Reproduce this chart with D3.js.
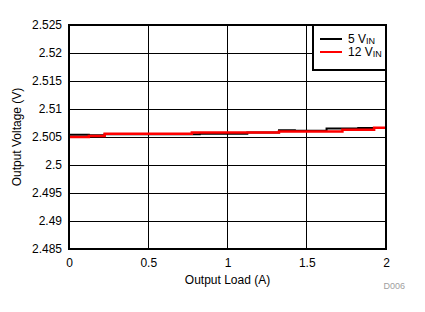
<!DOCTYPE html>
<html>
<head>
<meta charset="utf-8">
<script src="https://d3js.org/d3.v7.min.js"></script>
<style>
  body { margin: 0; background: #fff; font-family: "Liberation Sans", Arial, sans-serif; }
  .axis path, .axis line { display: none; }
  .axis text { font-size: 12px; fill: #000; font-family: "Liberation Sans", Arial, sans-serif; }
</style>
</head>
<body>
<script>
// output load (A)
const loads = [0, 0.05, 0.1, 0.15, 0.2, 0.25, 0.3, 0.35, 0.4, 0.45, 0.5, 0.55, 0.6, 0.65, 0.7, 0.75, 0.8, 0.85, 0.9, 0.95,
               1.0, 1.05, 1.1, 1.15, 1.2, 1.25, 1.3, 1.35, 1.4, 1.45, 1.5, 1.55, 1.6, 1.65, 1.7, 1.75, 1.8, 1.85, 1.9, 1.95, 2.0];
// output voltage (V), 5 VIN
const vin5 = [2.5054, 2.5054, 2.5054, 2.5053, 2.5053, 2.5055, 2.5055, 2.5055, 2.5055, 2.5055, 2.5055, 2.5055, 2.5055, 2.5055, 2.5055, 2.5055, 2.5055, 2.5056, 2.5056, 2.5056,
              2.5056, 2.5056, 2.5056, 2.5058, 2.5058, 2.5058, 2.5058, 2.5062, 2.5062, 2.5061, 2.5061, 2.5061, 2.5061, 2.5065, 2.5065, 2.5065, 2.5065, 2.5066, 2.5066, 2.5066, 2.5066];
// output voltage (V), 12 VIN
const vin12 = [2.5050, 2.5050, 2.5050, 2.5052, 2.5052, 2.5056, 2.5056, 2.5056, 2.5056, 2.5056, 2.5056, 2.5056, 2.5056, 2.5056, 2.5056, 2.5056, 2.5058, 2.5058, 2.5058, 2.5058,
               2.5058, 2.5058, 2.5058, 2.5058, 2.5058, 2.5058, 2.5058, 2.5060, 2.5060, 2.5060, 2.5060, 2.5060, 2.5060, 2.5060, 2.5060, 2.5063, 2.5063, 2.5063, 2.5063, 2.50665, 2.50665];

const xTicks = [0, 0.5, 1, 1.5, 2];
const yTicks = [2.485, 2.49, 2.495, 2.5, 2.505, 2.51, 2.515, 2.52, 2.525];
const seriesNames = ["5 V", "12 V"];
const colors = ["#000000", "#ff0000"];

const W = 425, H = 312;
const plot = { left: 69, top: 25, right: 386, bottom: 249 };

const svg = d3.select("body").append("svg").attr("width", W).attr("height", H);

const x = d3.scaleLinear().domain([0, 2]).range([plot.left, plot.right]);
const y = d3.scaleLinear().domain([2.485, 2.525]).range([plot.bottom, plot.top]);

// grid
svg.append("g").selectAll("line.v").data(xTicks.slice(1, -1)).enter().append("line")
  .attr("x1", d => x(d)).attr("x2", d => x(d)).attr("y1", plot.top).attr("y2", plot.bottom)
  .attr("stroke", "#000").attr("stroke-width", 1).attr("shape-rendering", "crispEdges");
svg.append("g").selectAll("line.h").data(yTicks.slice(1, -1)).enter().append("line")
  .attr("x1", plot.left).attr("x2", plot.right).attr("y1", d => Math.round(y(d)) + 0.5).attr("y2", d => Math.round(y(d)) + 0.5)
  .attr("stroke", "#000").attr("stroke-width", 1);

// axes labels
svg.append("g").attr("class", "axis").attr("transform", `translate(${plot.left},0)`)
  .call(d3.axisLeft(y).tickValues(yTicks).tickSize(0).tickPadding(7).tickFormat(d3.format("")));
svg.append("g").attr("class", "axis").attr("transform", `translate(0,${plot.bottom})`)
  .call(d3.axisBottom(x).tickValues(xTicks).tickSize(0).tickPadding(9).tickFormat(d3.format("")));

// lines
const line = d3.line().x((d, i) => x(loads[i])).y(d => y(d)).curve(d3.curveStep);
[vin5, vin12].forEach((s, i) => {
  svg.append("path").attr("d", line(s)).attr("fill", "none")
    .attr("stroke", colors[i]).attr("stroke-width", i === 0 ? 2 : 2.5);
});

// frame
svg.append("rect").attr("x", plot.left).attr("y", plot.top)
  .attr("width", plot.right - plot.left).attr("height", plot.bottom - plot.top)
  .attr("fill", "none").attr("stroke", "#000").attr("stroke-width", 2);

// legend
const lg = svg.append("g");
lg.append("rect").attr("x", 313).attr("y", plot.top).attr("width", plot.right - 313).attr("height", 45)
  .attr("fill", "#fff").attr("stroke", "#000").attr("stroke-width", 2);
seriesNames.forEach((name, i) => {
  const yy = 39 + i * 13;
  lg.append("line").attr("x1", 320).attr("x2", 342).attr("y1", yy).attr("y2", yy)
    .attr("stroke", colors[i]).attr("stroke-width", 2);
  const t = lg.append("text").attr("x", 348).attr("y", yy + 4).attr("font-size", 12).attr("fill", "#000");
  t.append("tspan").text(name);
  t.append("tspan").attr("font-size", 9).attr("dy", 1).text("IN");
});

// axis titles
svg.append("text").attr("x", (plot.left + plot.right) / 2).attr("y", 284).attr("text-anchor", "middle")
  .attr("font-size", 12).text("Output Load (A)");
svg.append("text").attr("transform", `translate(21,${(plot.top + plot.bottom) / 2}) rotate(-90)`)
  .attr("text-anchor", "middle").attr("font-size", 12).text("Output Voltage (V)");
svg.append("text").attr("x", 405).attr("y", 289).attr("text-anchor", "end")
  .attr("font-size", 9).attr("fill", "#a0a0a0").text("D006");
</script>
</body>
</html>
